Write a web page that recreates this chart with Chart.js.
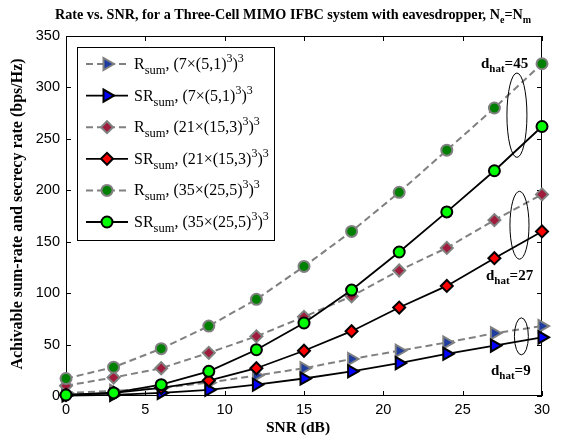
<!DOCTYPE html>
<html>
<head>
<meta charset="utf-8">
<script src="https://cdn.jsdelivr.net/npm/chart.js@4.4.1/dist/chart.umd.min.js"></script>
<style>
  html, body { margin: 0; padding: 0; background: #fff; }
  #wrap { width: 570px; height: 439px; }
</style>
</head>
<body>
<div id="wrap"><canvas id="chart" width="570" height="439"></canvas></div>
<script>
// SNR points (dB)
const snr = [0, 3, 6, 9, 12, 15, 18, 21, 24, 27, 30];

// sum-rate / secrecy rate curves (bps/Hz)
const rSum7   = [3, 5, 8, 13, 20, 27, 36, 44, 52, 61, 68];
const srSum7  = [0.5, 1, 3, 6, 11, 17, 24, 32, 41, 49, 57];
const rSum21  = [10, 18, 27, 42, 58, 77, 97, 122, 144, 171, 196];
const srSum21 = [1, 3, 8, 15, 27, 44, 63, 86, 107, 134, 160];
const rSum35  = [17, 28, 46, 68, 94, 126, 160, 198, 239, 280, 323];
const srSum35 = [1, 3, 11, 24, 45, 71, 103, 140, 179, 219, 262];

const xTicks = [0, 5, 10, 15, 20, 25, 30];
const yTicks = [0, 50, 100, 150, 200, 250, 300, 350];

const legendNames  = ['R', 'SR', 'R', 'SR', 'R', 'SR'];
const legendParams = ['7×(5,1)', '7×(5,1)', '21×(15,3)', '21×(15,3)', '35×(25,5)', '35×(25,5)'];

// d_hat groups: label, ellipse centre (x, y) and half sizes in data units
const groupLabels = ['45', '27', '9'];
const groupEllipses = [
  [28.42, 273, 0.63, 41],
  [28.58, 166, 0.60, 33],
  [28.70, 58, 0.44, 18]
];

const SERIF = '"Liberation Serif", "Times New Roman", serif';
const SANS = '"Liberation Sans", Arial, sans-serif';

function pts(ys) { return ys.map((y, i) => ({ x: snr[i], y: y })); }

function dashed(label, ys, style, fill, radius, order) {
  return {
    label, data: pts(ys), order, clip: false,
    borderColor: '#808080', borderWidth: 2, borderDash: [7, 4],
    pointStyle: style, pointRotation: style === 'triangle' ? 90 : 0,
    pointRadius: radius, pointHoverRadius: radius,
    pointBackgroundColor: fill, pointBorderColor: '#808080', pointBorderWidth: 2
  };
}
function solid(label, ys, style, fill, radius, order) {
  return {
    label, data: pts(ys), order, clip: false,
    borderColor: '#000', borderWidth: 1.8,
    pointStyle: style, pointRotation: style === 'triangle' ? 90 : 0,
    pointRadius: radius, pointHoverRadius: radius,
    pointBackgroundColor: fill, pointBorderColor: '#000', pointBorderWidth: 2
  };
}

// draw text with sub/superscripts, parts = [{t, s, dy}]
function richWidth(ctx, parts, bold) {
  let w = 0;
  parts.forEach(p => {
    ctx.font = (bold ? 'bold ' : '') + p.s + 'px ' + SERIF;
    w += ctx.measureText(p.t).width;
  });
  return w;
}
function drawRich(ctx, parts, x, y, bold) {
  ctx.textBaseline = 'alphabetic';
  ctx.textAlign = 'left';
  parts.forEach(p => {
    ctx.font = (bold ? 'bold ' : '') + p.s + 'px ' + SERIF;
    ctx.fillText(p.t, x, y + (p.dy || 0));
    x += ctx.measureText(p.t).width;
  });
}

const decorations = {
  id: 'decorations',
  beforeDatasetsDraw(chart) {
    const { ctx, chartArea: a, scales: { x, y } } = chart;
    ctx.save();
    ctx.strokeStyle = '#000';
    ctx.lineWidth = 1;
    ctx.strokeRect(a.left + 0.5, a.top + 0.5, a.right - a.left - 1, a.bottom - a.top - 1);
    ctx.beginPath();
    xTicks.forEach(v => {
      const px = Math.round(x.getPixelForValue(v)) + 0.5;
      ctx.moveTo(px, a.bottom); ctx.lineTo(px, a.bottom - 5);
      ctx.moveTo(px, a.top); ctx.lineTo(px, a.top + 5);
    });
    yTicks.forEach(v => {
      const py = Math.round(y.getPixelForValue(v)) + 0.5;
      ctx.moveTo(a.left, py); ctx.lineTo(a.left + 5, py);
      ctx.moveTo(a.right, py); ctx.lineTo(a.right - 5, py);
    });
    ctx.stroke();
    ctx.restore();
  },
  afterDatasetsDraw(chart) {
    const { ctx, chartArea: a, scales: { x, y } } = chart;
    ctx.save();
    ctx.fillStyle = '#000';

    // title
    const title = [
      { t: 'Rate vs. SNR, for a Three-Cell MIMO IFBC system with eavesdropper, N', s: 14.2 },
      { t: 'e', s: 10, dy: 3.5 },
      { t: '=N', s: 14.2 },
      { t: 'm', s: 10, dy: 3.5 }
    ];
    const tw = richWidth(ctx, title, true);
    drawRich(ctx, title, 293 - tw / 2, 19, true);

    // axis titles
    ctx.font = 'bold 15.5px ' + SERIF;
    ctx.textAlign = 'center';
    ctx.textBaseline = 'middle';
    ctx.fillText('SNR (dB)', 298, 428);
    ctx.save();
    ctx.translate(18, (a.top + a.bottom) / 2 - 2);
    ctx.rotate(-Math.PI / 2);
    ctx.font = 'bold 16px ' + SERIF;
    ctx.fillText('Achivable sum-rate and secrecy rate (bps/Hz)', 0, 0);
    ctx.restore();

    // ellipses + d_hat labels
    ctx.strokeStyle = '#000';
    ctx.lineWidth = 1;
    groupEllipses.forEach(e => {
      const cx = x.getPixelForValue(e[0]);
      const cy = y.getPixelForValue(e[1]);
      const rx = x.getPixelForValue(e[0] + e[2]) - cx;
      const ry = cy - y.getPixelForValue(e[1] + e[3]);
      ctx.beginPath();
      ctx.ellipse(cx, cy, rx, ry, 0, 0, Math.PI * 2);
      ctx.stroke();
    });
    const labelPos = [[481, 68], [486, 280], [491, 375]];
    groupLabels.forEach((g, i) => {
      drawRich(ctx, [
        { t: 'd', s: 15 }, { t: 'hat', s: 11, dy: 4 }, { t: '=' + g, s: 15 }
      ], labelPos[i][0], labelPos[i][1], true);
    });

    // legend
    const lx = 77, ly = 47, lw = 197, lh = 193;
    ctx.fillStyle = '#fff';
    ctx.fillRect(lx, ly, lw, lh);
    ctx.strokeStyle = '#000';
    ctx.lineWidth = 1;
    ctx.strokeRect(lx + 0.5, ly + 0.5, lw, lh);
    ctx.save();
    ctx.beginPath();
    ctx.rect(lx + 1, ly + 1, lw - 1, lh - 1);
    ctx.clip();
    chart.data.datasets.forEach((ds, i) => {
      const ry = 64 + i * 31.6;
      ctx.save();
      ctx.strokeStyle = ds.borderColor;
      ctx.lineWidth = ds.borderWidth;
      ctx.setLineDash(ds.borderDash || []);
      ctx.beginPath();
      ctx.moveTo(86, ry); ctx.lineTo(128, ry);
      ctx.stroke();
      ctx.setLineDash([]);
      ctx.fillStyle = ds.pointBackgroundColor;
      ctx.strokeStyle = ds.pointBorderColor;
      ctx.lineWidth = ds.pointBorderWidth;
      Chart.helpers.drawPoint(ctx, {
        pointStyle: ds.pointStyle, rotation: ds.pointRotation,
        radius: ds.pointRadius, borderWidth: ds.pointBorderWidth
      }, 107, ry);
      ctx.restore();
      ctx.fillStyle = '#000';
      drawRich(ctx, [
        { t: legendNames[i], s: 16 }, { t: 'sum', s: 12.5, dy: 5 },
        { t: ', (' + legendParams[i], s: 16 }, { t: '3', s: 12, dy: -7 },
        { t: ')', s: 16 }, { t: '3', s: 12, dy: -7 }
      ], 134, ry + 5, false);
    });
    ctx.restore();
    ctx.restore();
  }
};

new Chart(document.getElementById('chart'), {
  type: 'line',
  data: {
    datasets: [
      dashed('R_sum (7)', rSum7, 'triangle', '#1f3d9e', 7, 5),
      solid('SR_sum (7)', srSum7, 'triangle', '#0000ff', 7, 4),
      dashed('R_sum (21)', rSum21, 'rectRot', '#a01c3c', 6, 3),
      solid('SR_sum (21)', srSum21, 'rectRot', '#ff0000', 6, 2),
      dashed('R_sum (35)', rSum35, 'circle', '#008000', 5.5, 1),
      solid('SR_sum (35)', srSum35, 'circle', '#00ff00', 5.5, 0)
    ]
  },
  options: {
    responsive: false,
    animation: false,
    events: [],
    layout: { padding: { top: 36, right: 28, left: 0, bottom: 0 } },
    plugins: { legend: { display: false }, title: { display: false }, tooltip: { enabled: false } },
    elements: { line: { tension: 0 } },
    scales: {
      x: {
        type: 'linear', min: 0, max: 30,
        afterFit: s => { s.height = 43; },
        afterBuildTicks: s => { s.ticks = xTicks.map(v => ({ value: v })); },
        grid: { display: false, drawTicks: false },
        border: { display: false },
        ticks: { padding: 5, color: '#000', font: { family: SANS, size: 14.5 } }
      },
      y: {
        type: 'linear', min: 0, max: 350,
        afterFit: s => { s.width = 66; },
        afterBuildTicks: s => { s.ticks = yTicks.map(v => ({ value: v })); },
        grid: { display: false, drawTicks: false },
        border: { display: false },
        ticks: { padding: 6, color: '#000', font: { family: SANS, size: 14.5 } }
      }
    }
  },
  plugins: [decorations]
});
</script>
</body>
</html>
